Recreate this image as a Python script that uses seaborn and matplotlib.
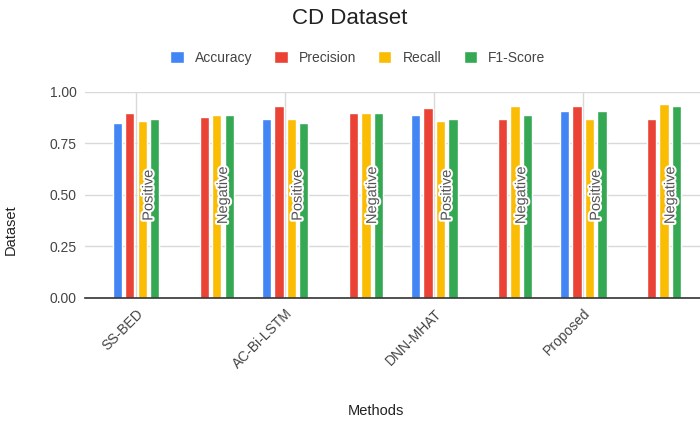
import numpy as np
import pandas as pd
import matplotlib
matplotlib.use("Agg")
import matplotlib.pyplot as plt
import matplotlib.patheffects as pe
import seaborn as sns

methods = ["SS-BED", "AC-Bi-LSTM", "DNN-MHAT", "Proposed"]
polarity = ["Positive", "Negative"]
metrics = ["Accuracy", "Precision", "Recall", "F1-Score"]
colors = ["#4285F4", "#EA4335", "#FBBC04", "#34A853"]

# one entry per bar group: method x polarity (Negative groups have no accuracy)
accuracy = [0.85, np.nan, 0.87, np.nan, 0.89, np.nan, 0.91, np.nan]
precision = [0.90, 0.88, 0.93, 0.90, 0.92, 0.87, 0.93, 0.87]
recall = [0.86, 0.89, 0.87, 0.90, 0.86, 0.93, 0.87, 0.94]
f1_score = [0.87, 0.89, 0.85, 0.90, 0.87, 0.89, 0.91, 0.93]

groups = [f"{m} {p}" for m in methods for p in polarity]
group_pol = [p for m in methods for p in polarity]

df = pd.DataFrame({"group": groups, "Accuracy": accuracy, "Precision": precision,
                   "Recall": recall, "F1-Score": f1_score})
long = df.melt(id_vars="group", var_name="metric", value_name="value").dropna()

sns.set_theme(style="white")
plt.rcParams["font.family"] = ["Liberation Sans", "DejaVu Sans"]

fig = plt.figure(figsize=(7, 4.21), dpi=100)
ax = fig.add_axes([0.1214, 0.2922, 0.8914, 0.4893])

sns.barplot(data=long, x="group", y="value", hue="metric", order=groups,
            hue_order=metrics, palette=colors, width=0.667, gap=0.25,
            saturation=1, ax=ax, legend=True)

# polarity labels inside each group
for i, p in enumerate(group_pol):
    ax.text(i + 0.167, 0.5, p, rotation=90, ha="center", va="center",
            fontsize=10.5, color="#555555",
            path_effects=[pe.withStroke(linewidth=3, foreground="white")])

ax.set_ylim(0, 1.0)
ax.set_xlim(-0.685, 7.685)
ax.set_yticks([0, 0.25, 0.5, 0.75, 1.0])
ax.set_yticklabels(["0.00", "0.25", "0.50", "0.75", "1.00"], fontsize=10, color="#444444")
ax.set_xticks([0, 2, 4, 6])
ax.set_xticklabels(methods, rotation=45, ha="right", rotation_mode="anchor",
                   fontsize=10, color="#444444")
ax.tick_params(axis="both", length=0, pad=6)

ax.grid(True, color="#d9d9d9", linewidth=1)
ax.set_axisbelow(True)
for s in ["top", "right", "left"]:
    ax.spines[s].set_visible(False)
ax.spines["bottom"].set_color("#333333")
ax.spines["bottom"].set_linewidth(1.2)

ax.set_xlabel("Methods", fontsize=10.5, color="#222222")
ax.set_ylabel("Dataset", fontsize=10.5, color="#222222")
ax.xaxis.set_label_coords(0.467, -0.515)
ax.yaxis.set_label_coords(-0.107, 0.33)

handles, labels = ax.get_legend_handles_labels()
ax.get_legend().remove()
fig.legend(handles, labels, loc="center", bbox_to_anchor=(0.511, 1 - 58 / 421),
           ncol=4, frameon=False, fontsize=10, handlelength=0.95, handleheight=0.95,
           handletextpad=0.8, columnspacing=1.6, labelcolor="#444444")

fig.suptitle("CD Dataset", fontsize=16, y=1 - 18 / 421, va="center", color="#222222")

plt.savefig("out.png", dpi=100)
